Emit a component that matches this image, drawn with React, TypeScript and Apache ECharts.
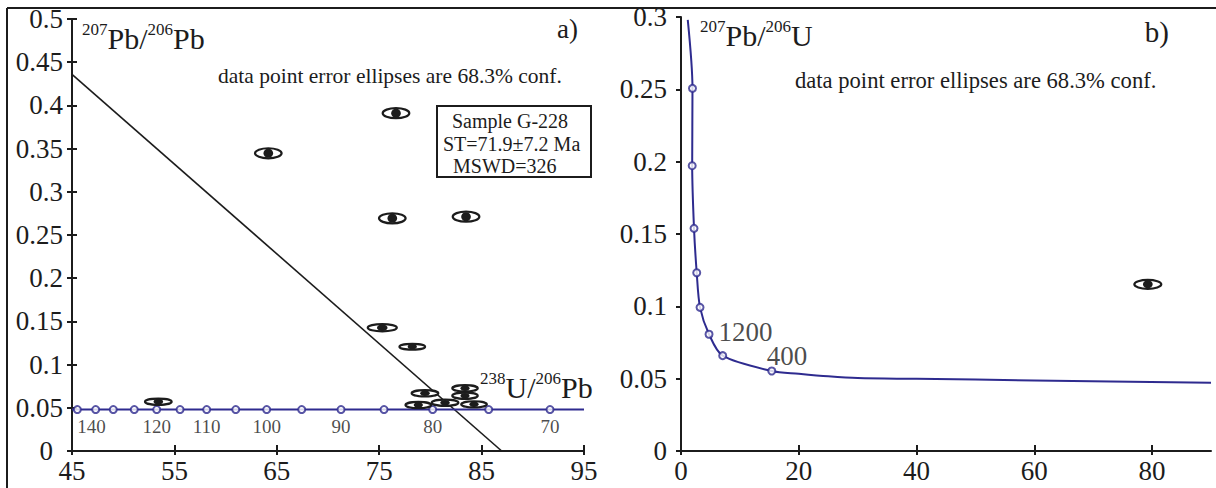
import React, { useEffect, useRef } from 'react';
import * as echarts from 'echarts';

const FONT = 'Liberation Serif, Times New Roman, serif';
const INK = '#1c1c1c';
const BLUE = '#2e2b8f';

// ---------- Panel a) ----------
const aRegLineX = [45, 86.96];
const aRegLineY = [0.436, 0];
const aConcX = [45, 95];
const aConcY = [0.048, 0.048];
const aMarkX = [45.52, 47.31, 49.03, 51.08, 53.27, 55.55, 58.15, 60.99, 64.01, 67.43, 71.27, 75.47, 80.22, 85.69, 91.68];
const aMarkY = [0.048, 0.048, 0.048, 0.048, 0.048, 0.048, 0.048, 0.048, 0.048, 0.048, 0.048, 0.048, 0.048, 0.048, 0.048];
const aMarkAge = ['140', '', '', '', '120', '', '110', '', '100', '', '90', '', '80', '', '70'];
const aEllX = [76.64, 64.17, 76.28, 83.48, 75.3, 78.23, 79.47, 78.82, 81.43, 83.38, 83.38, 84.26, 53.43];
const aEllY = [0.391, 0.3446, 0.2693, 0.2712, 0.1427, 0.1207, 0.0668, 0.0532, 0.0559, 0.0726, 0.064, 0.054, 0.0571];
const aEllEx = [1.3, 1.3, 1.3, 1.3, 1.42, 1.25, 1.3, 1.25, 1.3, 1.24, 1.24, 1.25, 1.3];
const aEllEy = [0.0058, 0.0058, 0.0058, 0.0058, 0.0042, 0.0034, 0.0036, 0.0036, 0.0036, 0.0036, 0.0036, 0.0036, 0.0036];

// ---------- Panel b) ----------
const bTickX = [0, 20, 40, 60, 80];
const bCurveX = [1.15, 1.95, 1.9, 2.21, 2.67, 3.23, 4.76, 7.08, 15.41, 20, 25, 30, 40, 60, 90];
const bCurveY = [0.298, 0.2507, 0.1972, 0.1539, 0.1232, 0.0993, 0.0807, 0.0659, 0.0553, 0.0534, 0.0516, 0.0504, 0.0499, 0.0488, 0.0472];
const bMarkX = [1.95, 1.9, 2.21, 2.67, 3.23, 4.76, 7.08, 15.41];
const bMarkY = [0.2507, 0.1972, 0.1539, 0.1232, 0.0993, 0.0807, 0.0659, 0.0553];
const bMarkAge = ['', '', '', '', '', '1200', '', '400'];
const bEllX = [79.27];
const bEllY = [0.1152];
const bEllEx = [2.29];
const bEllEy = [0.0031];

const renderEllipse = (params: any, api: any) => {
  const c = api.coord([api.value(0), api.value(1)]);
  const s = api.size([api.value(2), api.value(3)]);
  const rx = s[0];
  const ry = s[1];
  return {
    type: 'group',
    children: [
      { type: 'ellipse', shape: { cx: c[0], cy: c[1], rx, ry }, style: { fill: '#fff', stroke: INK, lineWidth: 2.2 } },
      { type: 'ellipse', shape: { cx: c[0], cy: c[1], rx: rx * 0.36, ry: ry * 0.9 }, style: { fill: INK } },
    ],
  };
};

const axisLabelStyle = { color: INK, fontFamily: FONT, fontSize: 27 };

function buildOption() {
  const xAxes: any[] = [
    {
      type: 'value', gridIndex: 0, position: 'bottom', min: 45, max: 95, interval: 10,
      axisLine: { onZero: false, lineStyle: { color: INK, width: 2 } },
      axisTick: { length: 4, lineStyle: { color: INK, width: 2 } },
      axisLabel: { ...axisLabelStyle, margin: 6 },
      splitLine: { show: false },
    },
    {
      type: 'value', gridIndex: 0, position: 'bottom', min: 45, max: 95, interval: 10,
      axisLine: { show: false },
      axisTick: { inside: true, length: 6, lineStyle: { color: INK, width: 2 } },
      axisLabel: { show: false },
      splitLine: { show: false },
    },
    {
      type: 'value', gridIndex: 1, position: 'bottom', min: 0, max: 90,
      axisLine: { onZero: false, lineStyle: { color: INK, width: 2 } },
      axisTick: { length: 4, customValues: bTickX, lineStyle: { color: INK, width: 2 } },
      axisLabel: { ...axisLabelStyle, margin: 6, customValues: bTickX },
      splitLine: { show: false },
    },
    {
      type: 'value', gridIndex: 1, position: 'bottom', min: 0, max: 90,
      axisLine: { show: false },
      axisTick: { inside: true, length: 6, customValues: bTickX, lineStyle: { color: INK, width: 2 } },
      axisLabel: { show: false },
      splitLine: { show: false },
    },
  ];
  const yAxes: any[] = [
    {
      type: 'value', gridIndex: 0, position: 'left', min: 0, max: 0.5, interval: 0.05,
      axisLine: { onZero: false, lineStyle: { color: INK, width: 2 } },
      axisTick: { length: 5, lineStyle: { color: INK, width: 2 } },
      axisLabel: {
        ...axisLabelStyle,
        margin: 9,
        formatter: (v: number) => (v === 0 ? '{z|0}' : String(+v.toFixed(2))),
        rich: { z: { fontFamily: FONT, fontSize: 27, color: INK, padding: [0, 10, 0, 0] } },
      },
      splitLine: { show: false },
    },
    {
      type: 'value', gridIndex: 0, position: 'left', min: 0, max: 0.5, interval: 0.05,
      axisLine: { show: false },
      axisTick: { inside: true, length: 5, lineStyle: { color: INK, width: 2 } },
      axisLabel: { show: false },
      splitLine: { show: false },
    },
    {
      type: 'value', gridIndex: 1, position: 'left', min: 0, max: 0.3, interval: 0.05,
      axisLine: { onZero: false, lineStyle: { color: INK, width: 2 } },
      axisTick: { length: 5, lineStyle: { color: INK, width: 2 } },
      axisLabel: { ...axisLabelStyle, margin: 14 },
      splitLine: { show: false },
    },
  ];

  const aMarkData = aMarkX.map((x, i) => ({
    value: [x, aMarkY[i]],
    label: {
      show: aMarkAge[i] !== '',
      formatter: aMarkAge[i],
      position: 'bottom',
      distance: 3,
      align: i === 0 ? 'left' : 'center',
      color: INK,
      fontFamily: FONT,
      fontSize: 19,
    },
  }));

  const bMarkData = bMarkX.map((x, i) => {
    const age = bMarkAge[i];
    const lbl: any = { show: age !== '', formatter: age, color: INK, fontFamily: FONT, fontSize: 27 };
    if (age === '1200') {
      lbl.position = 'right';
      lbl.distance = 5;
      lbl.offset = [0, -2];
    } else if (age === '400') {
      lbl.position = 'top';
      lbl.align = 'left';
      lbl.offset = [-5, 8];
    }
    return { value: [x, bMarkY[i]], label: lbl };
  });

  const markerStyle = { color: '#fff', borderColor: BLUE, borderWidth: 2 };

  const series: any[] = [
    {
      type: 'line', xAxisIndex: 0, yAxisIndex: 0, z: 2,
      data: aRegLineX.map((x, i) => [x, aRegLineY[i]]),
      symbol: 'none', lineStyle: { color: INK, width: 1.6 },
    },
    {
      type: 'line', xAxisIndex: 0, yAxisIndex: 0, z: 2,
      data: aConcX.map((x, i) => [x, aConcY[i]]),
      symbol: 'none', lineStyle: { color: BLUE, width: 2 },
    },
    {
      type: 'scatter', xAxisIndex: 0, yAxisIndex: 0, z: 3,
      data: aMarkData, symbol: 'circle', symbolSize: 7, itemStyle: markerStyle,
    },
    {
      type: 'custom', xAxisIndex: 0, yAxisIndex: 0, z: 4,
      renderItem: renderEllipse,
      encode: { x: 0, y: 1 },
      data: aEllX.map((x, i) => [x, aEllY[i], aEllEx[i], aEllEy[i]]),
    },
    {
      type: 'line', xAxisIndex: 2, yAxisIndex: 2, z: 2,
      data: bCurveX.map((x, i) => [x, bCurveY[i]]),
      symbol: 'none', smooth: 0.3, lineStyle: { color: BLUE, width: 2 },
    },
    {
      type: 'scatter', xAxisIndex: 2, yAxisIndex: 2, z: 3,
      data: bMarkData, symbol: 'circle', symbolSize: 7, itemStyle: markerStyle,
    },
    {
      type: 'custom', xAxisIndex: 2, yAxisIndex: 2, z: 4,
      renderItem: renderEllipse,
      encode: { x: 0, y: 1 },
      data: bEllX.map((x, i) => [x, bEllY[i], bEllEx[i], bEllEy[i]]),
    },
  ];

  const rich = {
    m: { fontSize: 30, lineHeight: 34, fontFamily: FONT, fill: INK, color: INK },
    s: { fontSize: 17, lineHeight: 22, verticalAlign: 'top', fontFamily: FONT, fill: INK, color: INK },
  };

  const txt = (x: number, y: number, text: string, fontSize: number, align = 'left', lineHeight?: number) => ({
    type: 'text', x, y, z: 10,
    style: { text, fontFamily: FONT, fontSize, fill: INK, align, verticalAlign: 'middle', lineHeight: lineHeight || fontSize + 4 },
  });

  const graphic: any[] = [
    { type: 'line', shape: { x1: 7, y1: 8, x2: 1216, y2: 8 }, style: { stroke: INK, lineWidth: 2 } },
    { type: 'line', shape: { x1: 7, y1: 8, x2: 7, y2: 488 }, style: { stroke: INK, lineWidth: 2 } },
    { type: 'text', x: 82, y: 21, z: 10, style: { text: '{s|207}{m|Pb/}{s|206}{m|Pb}', rich, verticalAlign: 'top', fill: INK } },
    { type: 'text', x: 700, y: 18, z: 10, style: { text: '{s|207}{m|Pb/}{s|206}{m|U}', rich, verticalAlign: 'top', fill: INK } },
    { type: 'text', x: 480, y: 370, z: 10, style: { text: '{s|238}{m|U/}{s|206}{m|Pb}', rich, verticalAlign: 'top', fill: INK } },
    txt(578, 29, 'a)', 27, 'right'),
    txt(1169, 32, 'b)', 29, 'right'),
    txt(218, 76, 'data point error ellipses are 68.3% conf.', 21.5),
    txt(795, 80, 'data point error ellipses are 68.3% conf.', 22.6),
    { type: 'rect', shape: { x: 437, y: 106, width: 154, height: 71 }, style: { fill: '#fff', stroke: INK, lineWidth: 2 }, z: 9 },
    txt(452, 121, 'Sample G-228', 20, 'left', 18),
    txt(443, 144, 'ST=71.9±7.2 Ma', 20, 'left', 17),
    txt(453, 166, 'MSWD=326', 20, 'left', 17),
  ];

  return {
    animation: false,
    backgroundColor: '#fff',
    grid: [
      { left: 72, top: 19, width: 512, height: 432, outerBoundsMode: 'none' },
      { left: 681, top: 17, width: 530, height: 434, outerBoundsMode: 'none' },
    ],
    xAxis: xAxes,
    yAxis: yAxes,
    series,
    graphic,
  };
}

export default function App() {
  const ref = useRef<HTMLDivElement>(null);
  useEffect(() => {
    if (!ref.current) return;
    const chart = echarts.init(ref.current, null, { renderer: 'svg' });
    chart.setOption(buildOption() as any);
    return () => chart.dispose();
  }, []);
  return (
    <div
      ref={ref}
      style={{ position: 'fixed', left: 0, top: 0, width: 1216, height: 488, background: '#fff' }}
    />
  );
}
